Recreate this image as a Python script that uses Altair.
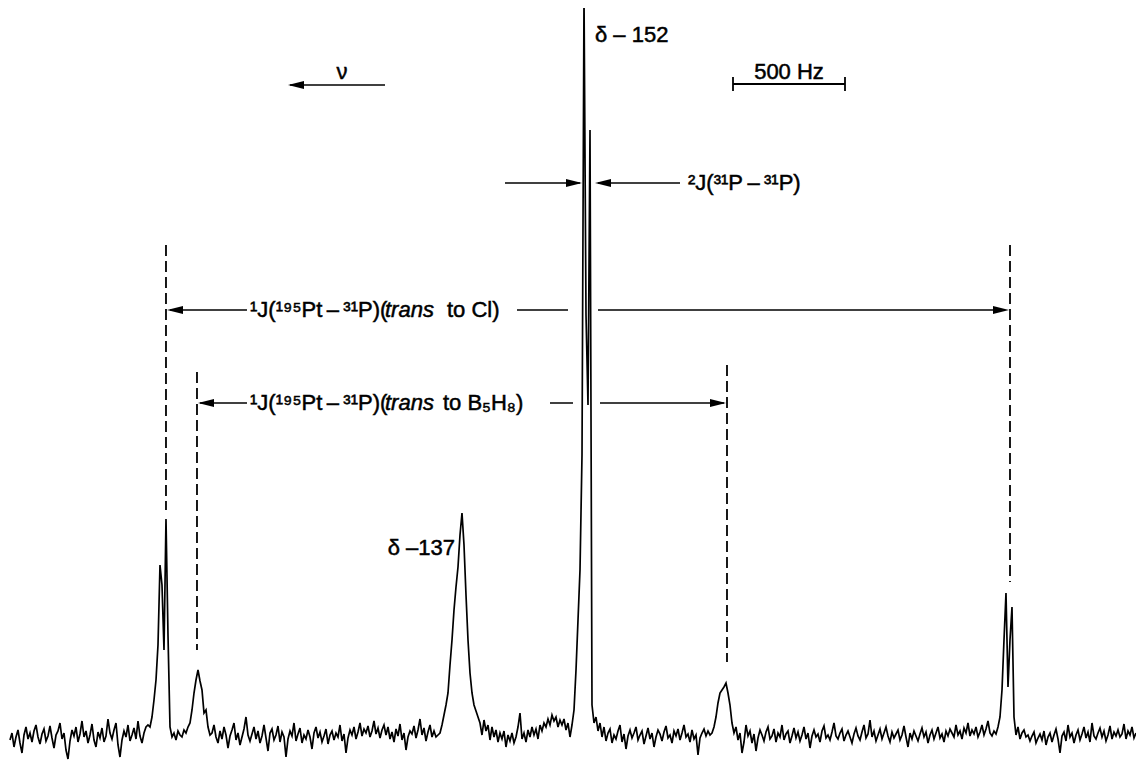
import altair as alt
import pandas as pd

# ---------------- spectrum (31P NMR), intensities ----------------
STEP_HZ = 500 / 56          # spacing of the read-off samples (Hz)

# each block: start frequency (Hz, relative to the delta -152 line) and intensities
BASE_A_START = -2562.5
BASE_A = [5, 12, -2, 8, 15, 2, -8, 10, 18, 6,
          12, 3, 14, 20, 8, 1, 11, 16, 4, 9,
          19, 7, -3, 10, 14, 22, 6, 12, -5, -14,
          4, 15, 9, 18, 3, 11, 24, 8, 14, 2,
          10, 21, 5, -2, 13, 7, 17, 3, 9, 26,
          12, 6, 15, 22, 0, -12, 5, 14, 8, 20,
          4, 10, 17, 6, 24, 9, 2, 12, 18, 20]
SAT_CL_LEFT_START = -1937.5
SAT_CL_LEFT = [18, 28, 45, 65, 100, 180, 160, 95, 226, 110, 18, 8]
BASE_C_START = -1830.4
BASE_C = [12, 5, 14, 10, 8, 15, 12, 18]
SAT_B5_LEFT_START = -1758.9
SAT_B5_LEFT = [22, 35, 52, 65, 75, 64, 55, 32, 35, 18, 10]
BASE_E_START = -1660.7
BASE_E = [12, 20, 8, 2, 14, 6, 18, 10, -3, 9,
          15, 22, 5, 12, 0, 8, 16, 28, 10, 4,
          11, 18, 6, 14, 2, 9, 20, 7, -6, 12,
          16, 5, 10, 19, 3, 13, 8, -12, 6, 14,
          9, 22, 4, 11, 17, 2, 10, 6, 15, 8,
          -4, 12, 18, 7, 13, 3, 9, 16, 1, 10,
          14, 5, 12, 8, 20, 4, 11, -8, 7, 15,
          10, 18, 6, 13, 22, 9, 16, 12, 19, 8,
          14, 24, 11, 17, 7, 15, 20, 10, 18, 6,
          13, 3, 16, 9, 21, 5, 12, -5, 8, 14,
          11, 19, 7, 15, 26, 10, 17, 4, 13, 20,
          8, 14]
PEAK_137_START = -660.7
PEAK_137 = [8, 10, 12, 20, 30, 40, 52, 80, 105, 135, 158, 178, 210, 232,
            200, 150, 105, 72, 52, 40, 34, 28]
TAIL_G_START = -464.3
TAIL_G = [22, 10, 25, 14, 20, 5, 18, 8, 15, 3,
          12, 6, 14, -2, 10, 4, 12, 2, 8, 18,
          32, 6, 12, 3, 15, 8, 18, 10, 16, 6,
          20, 14, 22, 18, 26, 20, 30, 24, 28, 18,
          25, 20, 26, 15, 22, 8, 20]
PEAK_152_START = -44.6
PEAK_152 = [35, 75, 125, 175, 290, 750, 430, 340, 615, 40, 22]
BASE_I_START = 53.6
BASE_I = [28, 14, 22, 8, 18, 4, 12, 16, 2, 10,
          6, 14, 20, 3, 11, -4, 9, 15, 7, 12,
          18, 5, 10, 14, 1, 9, 17, 6, 12, -2,
          8, 15, 11, 4, 13, 19, 7, 10, 2, 14,
          9, 16, 5, 12, 20, 8, 11, 3, 15, 6,
          10, -10, 7, 12, 16, 9, 14, 10]
SAT_B5_RIGHT_START = 571.4
SAT_B5_RIGHT = [12, 18, 28, 42, 52, 55, 58, 62, 52, 40, 22, 12, 18]
BASE_K_START = 687.5
BASE_K = [5, 12, -8, 3, 20, 9, 14, 2, 11, -6,
          7, 15, 10, 4, 13, 18, 6, 9, 16, 3,
          12, 8, 20, 5, 11, 14, 2, 9, 17, 7,
          13, 4, 10, 18, 6, 12, -3, 9, 15, 8,
          11, 3, 14, 19, 7, 10, 5, 13, 22, 9,
          6, 12, 16, 4, 10, 14, 8, 2, 11, 17,
          9, 5, 13, 20, 7, 11, 25, 8, 14, 4,
          10, 16, 6, 12, 18, 9, 3, 13, 7, 11,
          15, 5, 10, 19, 8, -2, 12, 6, 14, 9,
          4, 11, 17, 8, 13, 2, 10, 15, 6, 12,
          18, 7, 11, 3, 14, 9, 16, 12, 8, 20,
          10, 14, 6, 17, 12, 22, 9, 15, 11, 18,
          8, 13, 20, 10, 16, 24, 12, 9, 14, 11]
SAT_CL_RIGHT_START = 1848.2
SAT_CL_RIGHT = [18, 28, 55, 105, 152, 58, 105, 138, 28, 10]
BASE_M_START = 1937.5
BASE_M = [18, 6, 12, 15, 8, 10, 4, 9, 13, 2,
          7, 11, 5, 14, 0, 8, 12, 3, 10, 16,
          6, -8, 9, 13, 4, 20, 8, 12, 2, 10,
          15, 5, 11, 18, 7, 13, 3, 22, 9, 6,
          12, 17, 8, 14, 4, 10, 19, 6, 13, 9,
          15, 8, 11, 21, 6, 14, 10, 18, 7, 12]

BLOCKS = [(BASE_A_START, BASE_A), (SAT_CL_LEFT_START, SAT_CL_LEFT),
          (BASE_C_START, BASE_C), (SAT_B5_LEFT_START, SAT_B5_LEFT),
          (BASE_E_START, BASE_E), (PEAK_137_START, PEAK_137),
          (TAIL_G_START, TAIL_G), (PEAK_152_START, PEAK_152),
          (BASE_I_START, BASE_I), (SAT_B5_RIGHT_START, SAT_B5_RIGHT),
          (BASE_K_START, BASE_K), (SAT_CL_RIGHT_START, SAT_CL_RIGHT),
          (BASE_M_START, BASE_M)]

rows = []
for start, vals in BLOCKS:
    for k, v in enumerate(vals):
        rows.append({"hz": start + k * STEP_HZ, "i": v})
spec = pd.DataFrame(rows)

# ---------------- annotation values ----------------
DASH_HZ = [-1866.1, -1727.7, 638.4, 1901.8]
DASH_TOP = [500, 373, 380, 500]
DASH_BOT = [235, 95, 83, 163]

ARROW_X1 = [-1848.2, -299.1, 62.5, -1714.3, -151.8, 71.4, -352.7, 62.5, -1312.5]
ARROW_X2 = [-1504.5, -71.4, 1879.5, -1504.5, -49.1, 625.0, -17.9, 428.6, -888.4]
ARROW_Y = [435, 435, 435, 342, 342, 342, 562, 562, 660]

HEAD_L_HZ = [-1861.6, -1723.2, 49.1, -1321.4]
HEAD_L_Y = [435, 342, 562, 660]
HEAD_R_HZ = [1897.3, 633.9, -8.9]
HEAD_R_Y = [435, 342, 562]

BAR_HZ = [665.2, 1165.2]
BAR_Y = 661
BAR_TICK = [654, 668]

TXT_LEFT = ["\u00b9J(\u00b9\u2079\u2075Pt\u2009\u2013\u2009\u00b3\u00b9P)(",
            "to Cl)",
            "\u00b9J(\u00b9\u2079\u2075Pt\u2009\u2013\u2009\u00b3\u00b9P)(",
            "to B\u2085H\u2088)",
            "\u00b2J(\u00b3\u00b9P\u2009\u2013\u2009\u00b3\u00b9P)",
            "\u03b4 \u2013 152"]
TXT_LEFT_HZ = [-1491.1, -611.6, -1491.1, -629.5, 464.3, 49.1]
TXT_LEFT_Y = [435, 435, 342, 342, 562, 710]
TXT_ITAL = ["trans", "trans"]
TXT_ITAL_HZ = [-888.4, -888.4]
TXT_ITAL_Y = [435, 342]
TXT_CENTER = ["\u03bd", "500 Hz"]
TXT_CENTER_HZ = [-1080.4, 915.2]
TXT_CENTER_Y = [673, 673]
TXT_RIGHT = ["\u03b4 \u2013137"]
TXT_RIGHT_HZ = [-575.9]
TXT_RIGHT_Y = [197]

X_DOMAIN = [-2571.4, 2464.3]
Y_DOMAIN = [-15, 737]

xs = alt.Scale(domain=X_DOMAIN, nice=False, zero=False)
ys = alt.Scale(domain=Y_DOMAIN, nice=False, zero=False)
FONT = "Liberation Sans"
FS = 22


def X(f):
    return alt.X(f, type="quantitative", scale=xs, axis=None)


def Y(f):
    return alt.Y(f, type="quantitative", scale=ys, axis=None)


line = alt.Chart(spec).mark_line(color="black", strokeWidth=1.7, clip=True).encode(
    x=X("hz"), y=Y("i"))

dash = alt.Chart(pd.DataFrame({"x": DASH_HZ, "a": DASH_TOP, "b": DASH_BOT})).mark_rule(
    color="black", strokeWidth=1.8, strokeDash=[11, 5]).encode(x=X("x"), y=Y("a"), y2="b")

arrows = alt.Chart(pd.DataFrame({"a": ARROW_X1, "b": ARROW_X2, "y": ARROW_Y})).mark_rule(
    color="black", strokeWidth=1.5).encode(x=X("a"), x2="b", y=Y("y"))

head_l = alt.Chart(pd.DataFrame({"x": HEAD_L_HZ, "y": HEAD_L_Y})).mark_point(
    shape="M0,0L2,-0.5L2,0.5Z", filled=True, color="black", opacity=1, size=256,
    strokeWidth=0).encode(x=X("x"), y=Y("y"))
head_r = alt.Chart(pd.DataFrame({"x": HEAD_R_HZ, "y": HEAD_R_Y})).mark_point(
    shape="M0,0L-2,-0.5L-2,0.5Z", filled=True, color="black", opacity=1, size=256,
    strokeWidth=0).encode(x=X("x"), y=Y("y"))

bar = alt.Chart(pd.DataFrame({"a": [BAR_HZ[0]], "b": [BAR_HZ[1]], "y": [BAR_Y]})).mark_rule(
    color="black", strokeWidth=1.8).encode(x=X("a"), x2="b", y=Y("y"))
bar_ticks = alt.Chart(pd.DataFrame({"x": BAR_HZ, "a": [BAR_TICK[0]] * 2, "b": [BAR_TICK[1]] * 2})).mark_rule(
    color="black", strokeWidth=1.8).encode(x=X("x"), y=Y("a"), y2="b")

TXT_STYLE = dict(font=FONT, fontSize=FS, baseline="middle", color="black",
                 stroke="black", strokeWidth=0.5)

t_left = alt.Chart(pd.DataFrame({"x": TXT_LEFT_HZ, "y": TXT_LEFT_Y, "t": TXT_LEFT})).mark_text(
    align="left", **TXT_STYLE).encode(x=X("x"), y=Y("y"), text="t:N")
t_ital = alt.Chart(pd.DataFrame({"x": TXT_ITAL_HZ, "y": TXT_ITAL_Y, "t": TXT_ITAL})).mark_text(
    align="left", fontStyle="italic", **TXT_STYLE).encode(x=X("x"), y=Y("y"), text="t:N")
t_center = alt.Chart(pd.DataFrame({"x": TXT_CENTER_HZ, "y": TXT_CENTER_Y, "t": TXT_CENTER})).mark_text(
    align="center", **TXT_STYLE).encode(x=X("x"), y=Y("y"), text="t:N")
t_right = alt.Chart(pd.DataFrame({"x": TXT_RIGHT_HZ, "y": TXT_RIGHT_Y, "t": TXT_RIGHT})).mark_text(
    align="right", **TXT_STYLE).encode(x=X("x"), y=Y("y"), text="t:N")

chart = alt.layer(line, dash, arrows, head_l, head_r, bar, bar_ticks,
                  t_left, t_ital, t_center, t_right).properties(
    width=1128, height=752, padding=0, background="white"
).configure_view(strokeWidth=0)

chart.save("out.html", embed_options={"renderer": "svg", "actions": False})
